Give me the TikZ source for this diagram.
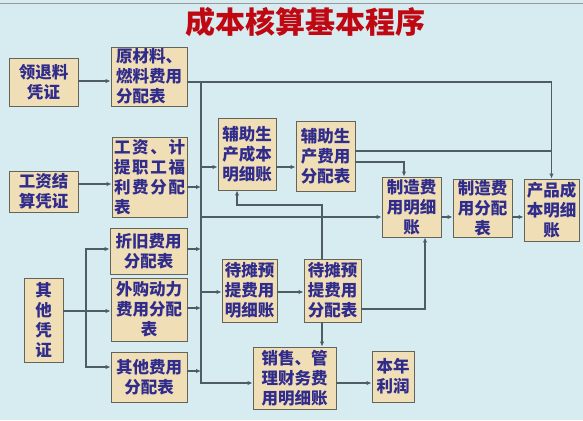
\documentclass[tikz,border=0pt]{standalone}
\usepackage{fontspec}
\newfontfamily\cjk{Noto Sans CJK SC}
\usetikzlibrary{arrows.meta}
\definecolor{bgc}{RGB}{214,236,240}
\definecolor{boxfill}{RGB}{240,222,182}
\definecolor{boxline}{RGB}{100,100,90}
\definecolor{txt}{RGB}{48,44,140}
\definecolor{ln}{RGB}{78,92,100}
\definecolor{ttl}{RGB}{192,8,18}
\begin{document}
\begin{tikzpicture}[x=1pt,y=-1pt,
  box/.style={draw=boxline, line width=0.9pt, fill=boxfill, inner sep=0pt,
    font=\cjk\bfseries\fontsize{16.5}{20}\selectfont, text=txt, align=center},
  conn/.style={draw=ln, line width=1.2pt},
  arr/.style={conn, -{Latex[length=5pt,width=4.5pt]}},
  arr2/.style={conn, {Latex[length=5pt,width=4.5pt]}-{Latex[length=5pt,width=4.5pt]}}]
\fill[bgc] (0,0) rectangle (583,420);
\useasboundingbox (0,0) rectangle (583,420);
\draw[gray!80, line width=0.8pt] (0,3) -- (583,3);
\node[font=\cjk\bfseries\fontsize{30}{30}\selectfont, text=ttl] (title) at (305,22) {成本核算基本程序};
% boxes
\node[box, minimum width=69pt, minimum height=48pt] (A) at (43.5,82) {领退料\\凭证};
\node[box, minimum width=76pt, minimum height=59pt, align=left] (B) at (149,76.5) {原材料、\\燃料费用\\分配表};
\node[box, minimum width=69pt, minimum height=41pt] (C) at (43.5,191.5) {工资结\\算凭证};
\node[box, minimum width=75pt, minimum height=80pt, align=left] (D) at (149.5,177) {\makebox[71pt][s]{工\hfill 资\hfill 、\hfill 计}\\\makebox[71pt][s]{提\hfill 职\hfill 工\hfill 福}\\\makebox[71pt][s]{利\hfill 费\hfill 分\hfill 配}\\表};
\node[box, minimum width=77pt, minimum height=46pt] (E) at (148.5,251) {折旧费用\\分配表};
\node[box, minimum width=76pt, minimum height=63pt] (F) at (149,309.5) {外购动力\\费用分配\\表};
\node[box, minimum width=76pt, minimum height=50pt] (G) at (149,377) {其他费用\\分配表};
\node[box, minimum width=39pt, minimum height=84pt] (H) at (43.5,320) {其\\他\\凭\\证};
\node[box, minimum width=58pt, minimum height=72pt] (I) at (247,154) {辅助生\\产成本\\明细账};
\node[box, minimum width=59pt, minimum height=70pt] (J) at (325.5,156) {辅助生\\产费用\\分配表};
\node[box, minimum width=59pt, minimum height=60pt] (K) at (411.5,207) {制造费\\用明细\\账};
\node[box, minimum width=59pt, minimum height=58pt] (L) at (482.5,208) {制造费\\用分配\\表};
\node[box, minimum width=55pt, minimum height=62pt] (M) at (551.5,210) {产品成\\本明细\\账};
\node[box, minimum width=55pt, minimum height=63pt] (N) at (249.5,290.5) {待摊预\\提费用\\明细账};
\node[box, minimum width=57pt, minimum height=63pt] (O) at (332.5,290.5) {待摊预\\提费用\\分配表};
\node[box, minimum width=83pt, minimum height=62pt] (P) at (294.5,378) {销售、管\\理财务费\\用明细账};
\node[box, minimum width=42pt, minimum height=51pt] (Q) at (393,376.5) {本年\\利润};
% bus coordinates
\coordinate (bt) at (201,82);
\coordinate (bb) at (201,383);
\coordinate (ht) at (86,249);
\coordinate (hm) at (86,311);
\coordinate (hd) at (86,367);
\coordinate (lp) at (237,205);
% connectors
\draw[arr] (A.east |- 0,81) -- (B.west |- 0,81);
\draw[arr] (B.east |- bt) -| (M.north);
\draw[arr] (bt) |- (P.west |- bb);
\draw[arr] (P.east |- bb) -- (Q.west |- bb);
\draw[arr] (C.east |- 0,184) -- (D.west |- 0,184);
\draw[arr] (D.east |- 0,187) -- (bt |- 0,187);
\draw[arr] (E.east |- 0,249) -- (bt |- 0,249);
\draw[arr] (F.east |- 0,308) -- (bt |- 0,308);
\draw[arr] (G.east |- 0,371) -- (bt |- 0,371);
\draw[arr] (H.east |- hm) -- (F.west |- hm);
\draw[arr2] (E.west |- ht) -| (hd) -- (G.west |- hd);
\draw[arr] (bt |- 0,167) -- (I.west |- 0,167);
\draw[arr] (I.east |- 0,167) -- (J.west |- 0,167);
\draw[conn] (J.east |- 0,151) -- (M.north |- 0,151);
\draw[arr] (J.east |- 0,162) -| (K.north -| 404,0);
\draw[arr] (bt |- 0,217) -- (K.west |- 0,217);
\draw[arr] (K.east |- 0,217) -- (L.west |- 0,217);
\draw[arr] (L.east |- 0,217) -- (M.west |- 0,217);
\draw[arr] (bt |- 0,292) -- (N.west |- 0,292);
\draw[arr] (N.east |- 0,292) -- (O.west |- 0,292);
\draw[arr] (O.north -| 322,0) |- (lp) -- (I.south -| lp);
\draw[arr] (O.east |- 0,309) -| (K.south -| 425,0);
\draw[arr] (O.south -| 322,0) -- (P.north -| 322,0);
\end{tikzpicture}
\end{document}
